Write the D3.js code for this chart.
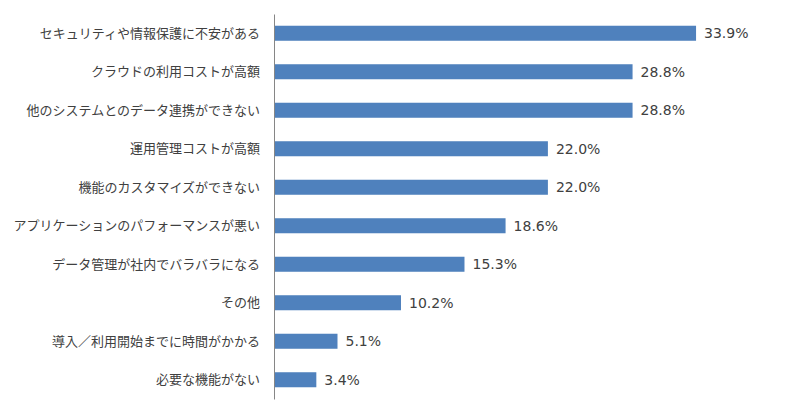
<!DOCTYPE html>
<html>
<head>
<meta charset="utf-8">
<script src="https://cdn.jsdelivr.net/npm/d3@7"></script>
<style>
  body { margin: 0; background: #fff; }
  .cat { font-family: "Noto Sans CJK JP", sans-serif; font-size: 13px; fill: #404040; }
  .val { font-family: "DejaVu Sans", Verdana, sans-serif; font-size: 14px; fill: #404040; }
</style>
</head>
<body>
<div id="chart"></div>
<script>
// data
let categories = [
  'セキュリティや情報保護に不安がある',
  'クラウドの利用コストが高額',
  '他のシステムとのデータ連携ができない',
  '運用管理コストが高額',
  '機能のカスタマイズができない',
  'アプリケーションのパフォーマンスが悪い',
  'データ管理が社内でバラバラになる',
  'その他',
  '導入／利用開始までに時間がかかる',
  '必要な機能がない'
];
let values = [33.9, 28.8, 28.8, 22.0, 22.0, 18.6, 15.3, 10.2, 5.1, 3.4];

let svgWidth = 800;
let svgHeight = 411;

// plot area
let margin = { top: 14, right: 28, bottom: 12, left: 274 };
let width = svgWidth - margin.left - margin.right;
let height = svgHeight - margin.top - margin.bottom;

let svg = d3.select('#chart').append('svg')
  .attr('width', svgWidth)
  .attr('height', svgHeight);

let chartGroup = svg.append('g')
  .attr('transform', `translate(${margin.left}, ${margin.top})`);

// scales
let xScale = d3.scaleLinear()
  .domain([0, 40])
  .range([0, width]);

let yScale = d3.scaleBand()
  .domain(categories)
  .range([0, height])
  .paddingInner(0.61)
  .paddingOuter(0.305);

// bars
chartGroup.selectAll('rect.bar')
  .data(values)
  .enter()
  .append('rect')
  .classed('bar', true)
  .attr('x', 0)
  .attr('y', (d, i) => yScale(categories[i]))
  .attr('width', d => xScale(d))
  .attr('height', yScale.bandwidth())
  .attr('fill', '#4F81BD');

// value labels
chartGroup.selectAll('text.val')
  .data(values)
  .enter()
  .append('text')
  .classed('val', true)
  .attr('x', d => xScale(d) + 8)
  .attr('y', (d, i) => yScale(categories[i]) + yScale.bandwidth() / 2)
  .attr('dy', '0.36em')
  .text(d => d.toFixed(1) + '%');

// y axis: just the line and labels
let leftAxis = d3.axisLeft(yScale).tickSize(0).tickPadding(14);
let yAxis = chartGroup.append('g').call(leftAxis);
yAxis.select('.domain').attr('stroke', '#868686');
yAxis.selectAll('text')
  .attr('class', 'cat')
  .attr('dy', '0.36em');
</script>
</body>
</html>
